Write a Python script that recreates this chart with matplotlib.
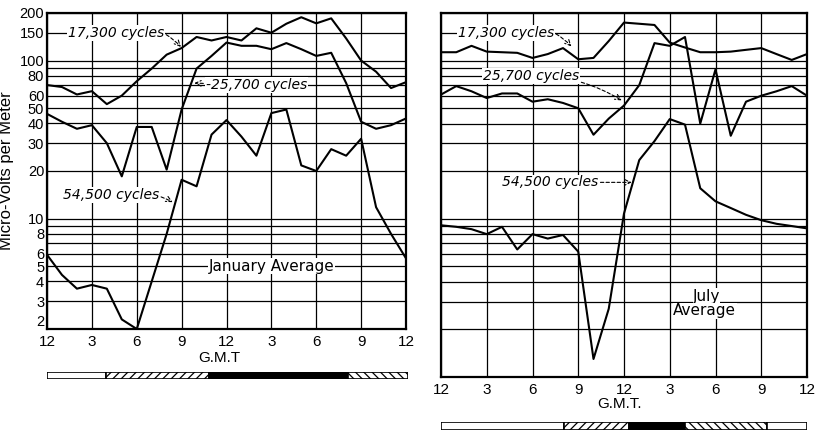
import matplotlib.pyplot as plt

# hours after 12 (midnight) G.M.T, one reading per hour
hours = list(range(25))
hour_ticks = [0, 3, 6, 9, 12, 15, 18, 21, 24]
hour_labels = ['12', '3', '6', '9', '12', '3', '6', '9', '12']

# January average, micro-volts per meter
jan_17300 = [70, 68, 61, 64, 53, 60, 74, 89, 109, 120, 141, 134, 141, 134, 160,
             150, 171, 188, 172, 185, 138, 100, 85, 67, 73]
jan_25700 = [46, 41, 37, 39, 30, 18.5, 38, 38, 20.4, 49, 89, 107, 130, 124, 124,
             118, 129, 118, 107, 112, 72, 41, 37, 39, 43]
jan_54500 = [5.9, 4.4, 3.6, 3.8, 3.6, 2.3, 2.0, 4.0, 8.0, 17.6, 16, 34, 42, 33, 25,
             46.5, 49, 21.7, 20, 27.5, 25, 32, 11.8, 8.0, 5.6]

# July average
jul_17300 = [113, 113, 124, 114, 113, 112, 104, 110, 120, 102, 104, 133, 174, 171, 168,
             130, 121, 113, 113, 114, 117, 120, 110, 101, 110]
jul_25700 = [61, 69, 64, 58, 62, 62, 55, 57, 54, 50, 34, 43, 52, 70, 129,
             124, 141, 40, 88, 33.5, 55, 60, 64, 69, 60]
jul_54500 = [9.1, 8.9, 8.6, 8.0, 8.9, 6.4, 8.0, 7.5, 7.9, 6.2, 1.3, 2.7, 10.8, 23.5, 31,
             42.7, 39.4, 15.6, 12.9, 11.7, 10.6, 9.8, 9.3, 9.0, 8.7]

# y axis grid / labels
jan_labeled = [2, 3, 4, 5, 6, 8, 10, 20, 30, 40, 50, 60, 80, 100, 150, 200]
jan_unlabeled = [7, 9, 70, 90]
jul_grid = [1, 2, 3, 4, 5, 6, 7, 8, 9, 10, 20, 30, 40, 50, 60, 70, 80, 90, 100, 150, 200]

# daylight bars under the charts: segment edges (hours) and fill
jan_bar_edges = [0, 3.95, 10.8, 20.0, 24]
jan_bar_fill = ['day', 'dawn', 'night', 'dusk']
jul_bar_edges = [0, 8.05, 12.35, 16.0, 21.4, 24]
jul_bar_fill = ['day', 'dawn', 'night', 'dusk', 'day']

NARROW = ['Liberation Sans', 'DejaVu Sans']
plt.rcParams['hatch.linewidth'] = 0.9

W, H = 815, 433
fig = plt.figure(figsize=(W / 100, H / 100), dpi=100)


def px_axes(x0, y0, x1, y1):
    return fig.add_axes([x0 / W, 1 - y1 / H, (x1 - x0) / W, (y1 - y0) / H])


def setup(ax, ylim, major, minor, labels):
    ax.set_yscale('log')
    ax.set_xlim(0, 24)
    ax.set_ylim(*ylim)
    ax.set_yticks(major)
    ax.set_yticks(minor, minor=True)
    if labels:
        ax.set_yticklabels([str(v) for v in major], family=NARROW, fontsize=10.5)
    else:
        ax.set_yticklabels([])
    ax.yaxis.set_minor_formatter(plt.NullFormatter())
    ax.set_xticks(hour_ticks)
    ax.set_xticklabels(hour_labels, family=NARROW, fontsize=11)
    ax.tick_params(which='both', length=0, pad=2)
    ax.tick_params(axis='x', pad=4)
    ax.grid(which='both', axis='both', color='black', lw=0.9)
    ax.set_axisbelow(True)
    for s in ax.spines.values():
        s.set_linewidth(1.6)


def draw_bar(ax, edges, fills):
    for i, f in enumerate(fills):
        left, width = edges[i], edges[i + 1] - edges[i]
        if f == 'day':
            ax.barh(0, width, left=left, height=1, color='white', edgecolor='black', lw=1.2)
        elif f == 'night':
            ax.barh(0, width, left=left, height=1, color='black', edgecolor='black', lw=1.2)
        elif f == 'dawn':
            ax.barh(0, width, left=left, height=1, color='white', edgecolor='black',
                    hatch='////', lw=1.2)
        else:
            ax.barh(0, width, left=left, height=1, color='white', edgecolor='black',
                    hatch='\\\\\\\\', lw=1.2)
    ax.set_xlim(0, 24)
    ax.set_ylim(-0.5, 0.5)
    ax.axis('off')


box = dict(facecolor='white', edgecolor='none', pad=0.6)
arrow = dict(arrowstyle='->', lw=0.8, ls=(0, (3, 2)), shrinkA=1, shrinkB=0)

# ---- January ----
ax1 = px_axes(47, 13, 406, 329)
setup(ax1, (2, 200), jan_labeled, jan_unlabeled, True)
ax1.get_yticklabels()[0].set_va('bottom')  # keep the "2" clear of the "12" below
for s in [jan_17300, jan_25700, jan_54500]:
    ax1.plot(hours, s, color='black', lw=1.5)
ax1.set_ylabel('Micro-Volts per Meter', family=NARROW, fontsize=12)
ax1.yaxis.set_label_coords((14 - 47) / 359, 0.5)

ax1.annotate('17,300 cycles', xy=(8.95, 122), xytext=(1.4, 150), fontsize=10,
             style='italic', va='center', ha='left', bbox=box,
             arrowprops=dict(arrow, connectionstyle='arc3,rad=-0.35'))
ax1.annotate('-25,700 cycles', xy=(9.85, 72), xytext=(10.6, 70), fontsize=10,
             style='italic', va='center', ha='left', bbox=box,
             arrowprops=dict(arrow))
ax1.annotate('54,500 cycles', xy=(8.4, 12.7), xytext=(1.05, 14.1), fontsize=10,
             style='italic', va='center', ha='left', bbox=box,
             arrowprops=dict(arrow, connectionstyle='arc3,rad=-0.2'))
ax1.text(15, 5, 'January Average', fontsize=11, ha='center', va='center', bbox=box)
fig.text(219 / W, 1 - 358 / H, 'G.M.T', family=NARROW, fontsize=11,
         ha='center', va='center')

# ---- July ----
ax2 = px_axes(441, 13, 807, 377)
setup(ax2, (1, 200), jul_grid, [], False)
for s in [jul_17300, jul_25700, jul_54500]:
    ax2.plot(hours, s, color='black', lw=1.5)

ax2.annotate('17,300 cycles', xy=(8.55, 123), xytext=(1.1, 150), fontsize=10,
             style='italic', va='center', ha='left', bbox=box,
             arrowprops=dict(arrow, connectionstyle='arc3,rad=-0.35'))
ax2.annotate('25,700 cycles', xy=(11.85, 56), xytext=(2.75, 80), fontsize=10,
             style='italic', va='center', ha='left', bbox=box,
             arrowprops=dict(arrow, connectionstyle='arc3,rad=-0.15'))
ax2.annotate('54,500 cycles', xy=(12.5, 17), xytext=(4.0, 17), fontsize=10,
             style='italic', va='center', ha='left', bbox=box,
             arrowprops=dict(arrow))
ax2.text(17.4, 3.04, 'July', fontsize=11, ha='center', va='baseline',
         bbox=dict(facecolor='white', edgecolor='none', pad=0.1))
ax2.text(17.3, 2.62, 'Average', fontsize=11, ha='center', va='center', bbox=box)
fig.text(620 / W, 1 - 404 / H, 'G.M.T.', family=NARROW, fontsize=11,
         ha='center', va='center')

# ---- daylight bars ----
ax3 = px_axes(47, 372, 408, 379)
draw_bar(ax3, jan_bar_edges, jan_bar_fill)
ax4 = px_axes(441, 422, 807, 430)
draw_bar(ax4, jul_bar_edges, jul_bar_fill)

plt.savefig('out.png', dpi=100)
